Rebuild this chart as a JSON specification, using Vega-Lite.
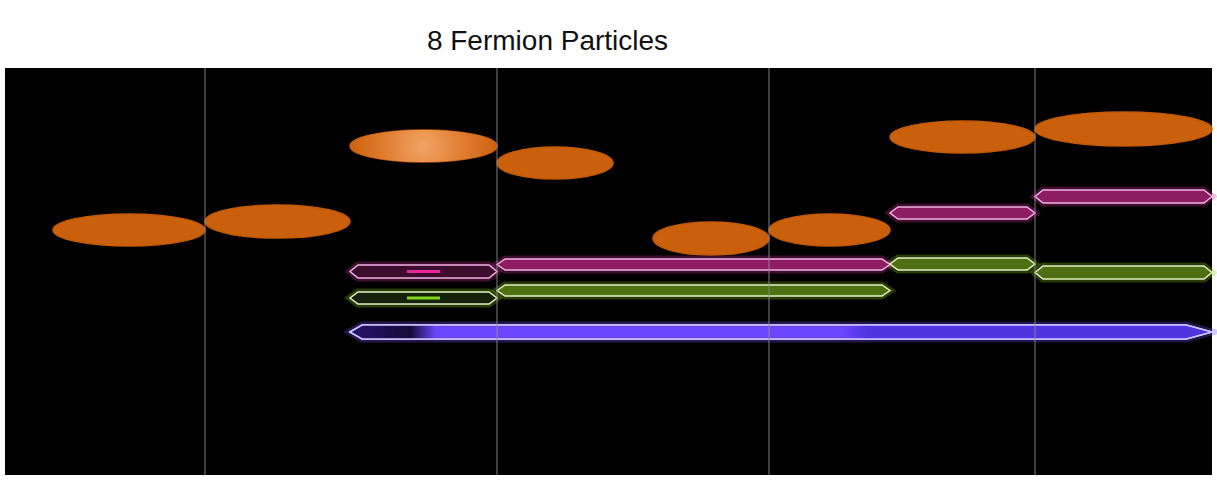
{
  "$schema": "https://vega.github.io/schema/vega-lite/v6.json",
  "width": 1207,
  "height": 407,
  "autosize": {"type": "none"},
  "padding": {"left": 5, "top": 68, "right": 5, "bottom": 12},
  "background": "white",
  "title": {"text": "8 Fermion Particles", "font": "Liberation Sans", "fontSize": 28, "fontWeight": "normal", "color": "#111111", "anchor": "middle", "dx": -61, "offset": 11},
  "config": {"view": {"fill": "black", "stroke": null}},
  "datasets": {
    "particles": [
      {"name": "e1", "series": "orange", "mid": 12.4, "span": 15.2, "y": 24.5},
      {"name": "e2", "series": "orange", "mid": 27.25, "span": 14.5, "y": 25.35},
      {"name": "e3", "series": "orange", "mid": 41.85, "span": 14.7, "y": 32.9},
      {"name": "e4", "series": "orange", "mid": 55.0, "span": 11.6, "y": 31.2},
      {"name": "e5", "series": "orange", "mid": 70.6, "span": 11.6, "y": 23.65},
      {"name": "e6", "series": "orange", "mid": 82.45, "span": 12.1, "y": 24.5},
      {"name": "e7", "series": "orange", "mid": 95.75, "span": 14.5, "y": 33.8},
      {"name": "e8", "series": "orange", "mid": 111.85, "span": 17.7, "y": 34.6},
      {"name": "m1", "series": "magenta", "mid": 41.85, "span": 14.7, "y": 20.35},
      {"name": "m2", "series": "magenta", "mid": 68.85, "span": 39.3, "y": 21.05},
      {"name": "m3", "series": "magenta", "mid": 95.75, "span": 14.5, "y": 26.2},
      {"name": "m4", "series": "magenta", "mid": 111.85, "span": 17.7, "y": 27.85},
      {"name": "g1", "series": "green", "mid": 41.85, "span": 14.7, "y": 17.7},
      {"name": "g2", "series": "green", "mid": 68.85, "span": 39.3, "y": 18.45},
      {"name": "g3", "series": "green", "mid": 95.75, "span": 14.5, "y": 21.1},
      {"name": "g4", "series": "green", "mid": 111.85, "span": 17.7, "y": 20.25},
      {"name": "b1", "series": "blue", "mid": 77.6, "span": 86.2, "y": 14.3}
    ],
    "dividers": [{"t": 20.0}, {"t": 49.2}, {"t": 76.4}, {"t": 103.0}],
    "dashes": [
      {"name": "m1", "series": "magenta", "from": 40.2, "to": 43.5, "y": 20.35},
      {"name": "g1", "series": "green", "from": 40.2, "to": 43.5, "y": 17.7}
    ]
  },
  "layer": [
    {
      "data": {"name": "particles"},
      "encoding": {
        "x": {"field": "mid", "type": "quantitative", "scale": {"domain": [0, 120.7], "nice": false, "zero": false}, "axis": null},
        "y": {"field": "y", "type": "quantitative", "scale": {"domain": [0, 40.7], "nice": false, "zero": false}, "axis": null},
        "size": {"field": "span", "type": "quantitative", "scale": {"type": "pow", "exponent": 2, "domain": [0, 100], "range": [0, 1000000]}, "legend": null},
        "shape": {"field": "name", "type": "nominal", "legend": null, "scale": {
          "domain": ["e1","e2","e3","e4","e5","e6","e7","e8","m1","m2","m3","m4","g1","g2","g3","g4","b1"],
          "range": [
            "M-1,0A1,0.2105,0,1,1,1,0A1,0.2105,0,1,1,-1,0Z",
            "M-1,0A1,0.2276,0,1,1,1,0A1,0.2276,0,1,1,-1,0Z",
            "M-1,0A1,0.2177,0,1,1,1,0A1,0.2177,0,1,1,-1,0Z",
            "M-1,0A1,0.2759,0,1,1,1,0A1,0.2759,0,1,1,-1,0Z",
            "M-1,0A1,0.2845,0,1,1,1,0A1,0.2845,0,1,1,-1,0Z",
            "M-1,0A1,0.2645,0,1,1,1,0A1,0.2645,0,1,1,-1,0Z",
            "M-1,0A1,0.2207,0,1,1,1,0A1,0.2207,0,1,1,-1,0Z",
            "M-1,0A1,0.1921,0,1,1,1,0A1,0.1921,0,1,1,-1,0Z",
            "M-1,0L-0.891,-0.0884L0.891,-0.0884L1,0L0.891,0.0884L-0.891,0.0884Z",
            "M-1,0L-0.9593,-0.028L0.9593,-0.028L1,0L0.9593,0.028L-0.9593,0.028Z",
            "M-1,0L-0.89,-0.0828L0.89,-0.0828L1,0L0.89,0.0828L-0.89,0.0828Z",
            "M-1,0L-0.9096,-0.0734L0.9096,-0.0734L1,0L0.9096,0.0734L-0.9096,0.0734Z",
            "M-1,0L-0.891,-0.0816L0.891,-0.0816L1,0L0.891,0.0816L-0.891,0.0816Z",
            "M-1,0L-0.9593,-0.028L0.9593,-0.028L1,0L0.9593,0.028L-0.9593,0.028Z",
            "M-1,0L-0.89,-0.0828L0.89,-0.0828L1,0L0.89,0.0828L-0.89,0.0828Z",
            "M-1,0L-0.9096,-0.0734L0.9096,-0.0734L1,0L0.9096,0.0734L-0.9096,0.0734Z",
            "M-1,0L-0.972,-0.01624L0.94,-0.01624L1,0L0.94,0.01624L-0.972,0.01624Z"
          ]}}
      },
      "layer": [
        {
          "transform": [{"filter": "datum.series != 'orange'"}],
          "mark": {"type": "point", "filled": false, "opacity": 1, "strokeWidth": 7, "strokeOpacity": 0.3},
          "encoding": {
            "stroke": {"field": "series", "type": "nominal", "legend": null, "scale": {"domain": ["magenta", "green", "blue"], "range": ["#D0309A", "#8CC81E", "#6A4CFF"]}}
          }
        },
        {
          "mark": {"type": "point", "filled": true, "opacity": 1, "strokeWidth": 1.5},
          "encoding": {
            "fill": {"field": "name", "type": "nominal", "legend": null, "scale": {
              "domain": ["e1","e2","e3","e4","e5","e6","e7","e8","m1","m2","m3","m4","g1","g2","g3","g4","b1"],
              "range": ["#CB600C","#CB600C","#CB600C","#CB600C","#CB600C","#CB600C","#CB600C","#CB600C","#3C0B2E","#8E1C62","#8E1C62","#8E1C62","#15210A","#4E7012","#4E7012","#4E7012","#5836EA"]}},
            "stroke": {"field": "series", "type": "nominal", "legend": null, "scale": {"domain": ["orange", "magenta", "green", "blue"], "range": ["#C25A0A", "#F0B4E4", "#E0F2C2", "#D2C8FF"]}}
          }
        },
        {
          "transform": [{"filter": "datum.name == 'e3'"}],
          "mark": {"type": "point", "filled": true, "opacity": 1, "strokeWidth": 0,
            "fill": {"gradient": "radial", "x1": 0.5, "y1": 0.5, "r1": 0, "x2": 0.5, "y2": 0.5, "r2": 0.5,
              "stops": [{"offset": 0, "color": "#F2A466"}, {"offset": 0.55, "color": "#E07C30"}, {"offset": 1, "color": "#CC620E"}]}}
        },
        {
          "transform": [{"filter": "datum.name == 'b1'"}],
          "mark": {"type": "point", "filled": true, "opacity": 1, "strokeWidth": 1.5, "stroke": "#D2C8FF",
            "fill": {"gradient": "linear", "x1": 0, "y1": 0, "x2": 1, "y2": 0,
              "stops": [{"offset": 0, "color": "#2A1470"}, {"offset": 0.07, "color": "#140A38"}, {"offset": 0.1, "color": "#6C46FF"}, {"offset": 0.57, "color": "#6C46FF"}, {"offset": 0.6, "color": "#4F34E0"}, {"offset": 1, "color": "#4F34E0"}]}}
        }
      ],
      "resolve": {"scale": {"fill": "independent", "stroke": "independent"}}
    },
    {
      "data": {"name": "dashes"},
      "mark": {"type": "rule", "strokeWidth": 3},
      "encoding": {
        "x": {"field": "from", "type": "quantitative", "scale": {"domain": [0, 120.7], "nice": false, "zero": false}, "axis": null},
        "x2": {"field": "to"},
        "y": {"field": "y", "type": "quantitative", "scale": {"domain": [0, 40.7], "nice": false, "zero": false}, "axis": null},
        "stroke": {"field": "series", "type": "nominal", "legend": null, "scale": {"domain": ["magenta", "green"], "range": ["#E8289A", "#80D41A"]}}
      }
    },
    {
      "data": {"name": "dividers"},
      "mark": {"type": "rule", "color": "#8C8C8C", "strokeWidth": 1.5, "opacity": 0.6},
      "encoding": {
        "x": {"field": "t", "type": "quantitative", "scale": {"domain": [0, 120.7], "nice": false, "zero": false}, "axis": null}
      }
    }
  ],
  "resolve": {"scale": {"fill": "independent", "stroke": "independent"}}
}
